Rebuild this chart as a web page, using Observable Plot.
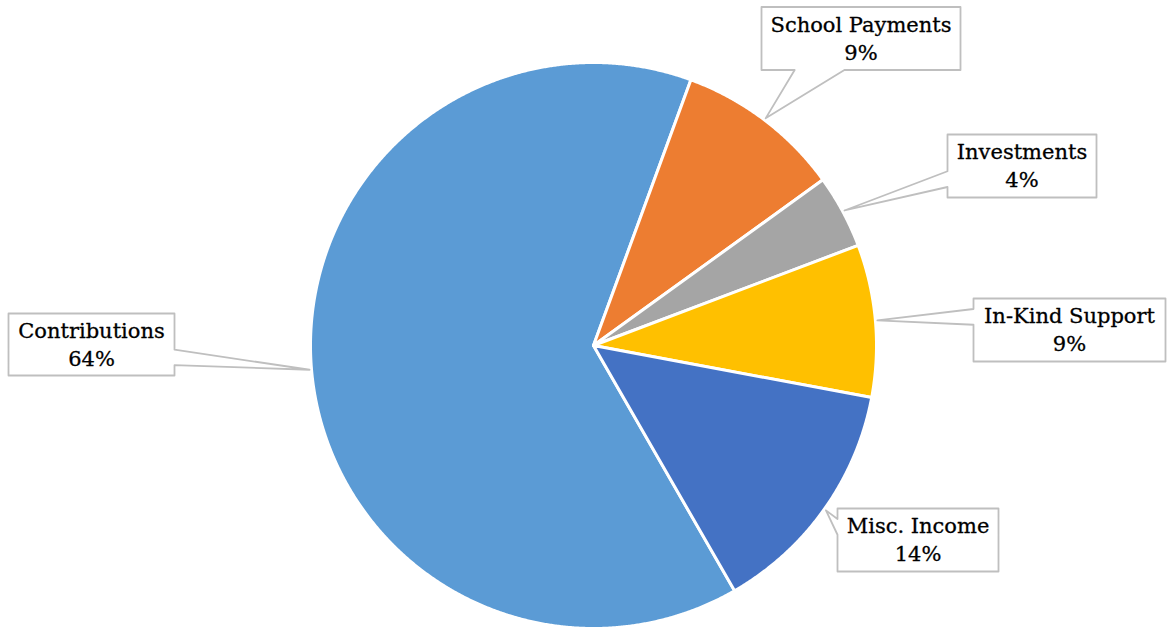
<!DOCTYPE html>
<html>
<head>
<meta charset="utf-8">
<script src="https://cdn.jsdelivr.net/npm/d3@7"></script>
<script src="https://cdn.jsdelivr.net/npm/@observablehq/plot@0.6"></script>
<style>
  html, body { margin: 0; padding: 0; background: #fff; }
  #chart svg { display: block; }
</style>
</head>
<body>
<div id="chart"></div>
<script>
// ---- data ----
const categories = ["Contributions", "School Payments", "Investments", "In-Kind Support", "Misc. Income"];
const shares = [63.9, 9.45, 4.2, 8.7, 13.75];
const colors = ["#5b9bd5", "#ed7d31", "#a5a5a5", "#ffc000", "#4472c4"];

// ---- layout (pixel units) ----
const W = 1167, H = 629;
const center = [593, 345];
const radius = 283;
const firstSliceAngle = 150.1; // degrees clockwise from 12 o'clock
const labelBoxes = [
  {cx: 91, cy: 344, w: 166, h: 62},
  {cx: 860.5, cy: 38, w: 199, h: 63},
  {cx: 1021.5, cy: 165.5, w: 149, h: 63},
  {cx: 1069, cy: 329.5, w: 192, h: 63},
  {cx: 917.5, cy: 539.5, w: 161, h: 63}
];

const rows = categories.map((c, i) => ({category: c, share: shares[i]}));
const a0 = firstSliceAngle * Math.PI / 180;
const arcs = d3.pie().sort(null).value(d => d.share).startAngle(a0).endAngle(a0 + 2 * Math.PI)(rows);

const pt = (a, r) => [center[0] + r * Math.sin(a), center[1] - r * Math.cos(a)];

// slice outlines
const slicePts = [];
arcs.forEach(s => {
  const cat = s.data.category;
  slicePts.push({cat, x: center[0], y: center[1]});
  const n = Math.max(2, Math.ceil((s.endAngle - s.startAngle) / (Math.PI / 720)));
  for (let k = 0; k <= n; k++) {
    const a = s.startAngle + (s.endAngle - s.startAngle) * k / n;
    const [x, y] = pt(a, radius);
    slicePts.push({cat, x, y});
  }
});

// callout bubbles
function bubble(box, tip) {
  const x1 = box.cx - box.w / 2, x2 = box.cx + box.w / 2, y1 = box.cy - box.h / 2, y2 = box.cy + box.h / 2;
  const w = box.w, h = box.h;
  const dx = tip[0] - box.cx, dy = tip[1] - box.cy;
  if (Math.abs(dx) * h > Math.abs(dy) * w) {
    const f = dy < 0 ? [1/6, 5/12] : [7/12, 5/6];
    if (dx < 0) return [[x1,y1],[x2,y1],[x2,y2],[x1,y2],[x1,y1+f[1]*h],tip,[x1,y1+f[0]*h]];
    return [[x1,y1],[x2,y1],[x2,y1+f[0]*h],tip,[x2,y1+f[1]*h],[x2,y2],[x1,y2]];
  } else {
    const f = dx < 0 ? [1/6, 5/12] : [7/12, 5/6];
    if (dy > 0) return [[x1,y1],[x2,y1],[x2,y2],[x1+f[1]*w,y2],tip,[x1+f[0]*w,y2],[x1,y2]];
    return [[x1,y1],[x1+f[0]*w,y1],tip,[x1+f[1]*w,y1],[x2,y1],[x2,y2],[x1,y2]];
  }
}
const bubblePts = [];
const labelRows = [];
arcs.forEach((s, i) => {
  const mid = (s.startAngle + s.endAngle) / 2;
  const tip = pt(mid, radius + 2);
  const box = labelBoxes[i];
  bubble(box, tip).forEach(([x, y]) => bubblePts.push({cat: s.data.category, x, y}));
  labelRows.push({x: box.cx, y: box.cy, text: s.data.category + "\n" + Math.round(s.data.share) + "%"});
});

const chart = Plot.plot({
  width: W,
  height: H,
  margin: 0,
  x: {domain: [0, W], range: [0, W], axis: null},
  y: {domain: [0, H], range: [0, H], axis: null},
  color: {domain: categories, range: colors},
  marks: [
    Plot.line(slicePts, {x: "x", y: "y", z: "cat", fill: "cat", stroke: "#ffffff", strokeWidth: 3, strokeLinejoin: "round", curve: "linear-closed"}),
    Plot.line(bubblePts, {x: "x", y: "y", z: "cat", fill: "#ffffff", stroke: "#bfbfbf", strokeWidth: 1.8, curve: "linear-closed"}),
    Plot.text(labelRows, {x: "x", y: "y", dy: -1.5, text: "text", fontSize: 21, lineHeight: 1.33, fontFamily: "DejaVu Serif", fill: "#000000", stroke: "#000000", strokeWidth: 0.3, textAnchor: "middle"})
  ]
});
document.getElementById("chart").appendChild(chart);
</script>
</body>
</html>
